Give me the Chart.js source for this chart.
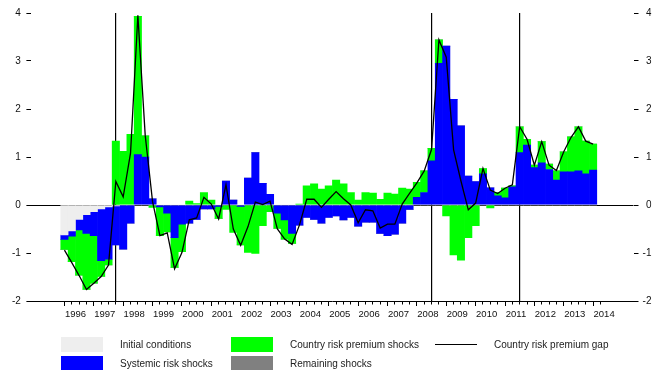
<!DOCTYPE html>
<html>
<head>
<meta charset="utf-8">
<script src="https://cdn.jsdelivr.net/npm/chart.js@4/dist/chart.umd.min.js"></script>
<style>
html,body{margin:0;padding:0;background:#fff;}
#wrap{position:relative;width:668px;height:370px;overflow:hidden;font-family:'Liberation Sans',Arial,sans-serif;}
#c{position:absolute;left:0;top:0;}
.lgt{position:absolute;font-size:10px;color:#222;white-space:nowrap;height:15px;line-height:15px;}
.lgb{position:absolute;width:42px;height:15px;}
.lgl{position:absolute;width:42px;height:0;border-top:1px solid #111;}
</style>
</head>
<body>
<div id="wrap">
<canvas id="c" width="668" height="370"></canvas>
<div id="legend"></div>
</div>
<script>
// ---- categories (quarters 1996Q1 .. 2014Q1) ----
const firstYear = 1996, lastYear = 2014, lastQuarter = 1;
const quarters = [];
for (let y = firstYear; y <= lastYear; y++) {
  for (let q = 1; q <= 4; q++) {
    if (y === lastYear && q > lastQuarter) break;
    quarters.push(y + 'Q' + q);
  }
}

// ---- series (contributions to the country risk premium gap) ----
const initialConditions = [
  -0.625,-0.54,-0.30,-0.20,-0.14,-0.08,-0.04,-0.02,0,0,
  0,0,0,0,0,0,0,0,0,0,
  0,0,0,0,0,0,0,0,0,0,
  0,0,0,0,0,0,0,0,0,0,
  0,0,0,0,0,0,0,0,0,0,
  0,0,0,0,0,0,0,0,0,0,
  0,0,0,0,0,0,0,0,0,0,
  0,0,0
];
const systemicRiskShocks = [
  -0.09,-0.11,-0.22,-0.39,-0.50,-1.08,-1.09,-0.81,-0.92,-0.38,
  1.05,1.00,0.13,-0.04,-0.17,-0.68,-0.40,-0.38,-0.30,-0.08,
  -0.08,-0.03,0.50,0.10,-0.03,0.56,1.09,0.45,0.22,-0.17,
  -0.31,-0.59,-0.42,-0.26,-0.30,-0.38,-0.26,-0.23,-0.31,-0.26,
  -0.44,-0.36,-0.36,-0.59,-0.64,-0.61,-0.38,-0.09,0.16,0.26,
  0.92,2.95,3.31,2.20,1.65,0.60,0.49,0.65,0.36,0.19,
  0.15,0.38,1.09,1.25,0.78,0.88,0.74,0.52,0.69,0.69,
  0.71,0.65,0.73
];
const countryRiskPremiumShocks = [
  -0.21,-0.53,-0.94,-1.17,-0.99,-0.33,-0.12,1.33,1.12,1.47,
  2.88,0.44,-0.05,-0.60,-0.39,-0.62,-0.57,0.08,0.03,0.26,
  0.10,-0.25,-0.09,-0.57,-0.80,-0.99,-1.01,-0.43,-0.14,-0.32,
  -0.40,-0.21,0.02,0.40,0.44,0.33,0.40,0.52,0.44,0.26,
  0.10,0.26,0.25,0.12,0.25,0.23,0.35,0.33,0.31,0.45,
  0.26,0.49,-0.23,-1.04,-1.15,-0.68,-0.43,0.11,-0.06,0.07,
  0.20,0.02,0.54,0.12,0.05,0.44,0.11,0.19,0.42,0.73,
  0.92,0.68,0.54
];
const remainingShocks = [
  0,0,0,0,0,0,0,0,0,0,
  0,0,0,0,0,0,0,0,0,0,
  0,0,0,0,0,0,0,0,0,0,
  0,0,0,0,0,0,0,0,0,0,
  0,0,0,0,0,0,0,0,0,0,
  0,0,0,0,0,0,0,0,0,0,
  0,0,0,0,0,0,0,0,0,0,
  0,0,0
];
const countryRiskPremiumGap = [
  -0.94,-1.20,-1.47,-1.76,-1.63,-1.49,-1.25,0.49,0.17,1.08,
  3.95,1.45,0.07,-0.64,-0.58,-1.33,-0.99,-0.31,-0.27,0.16,
  0.02,-0.29,0.42,-0.50,-0.84,-0.45,0.06,0.01,0.08,-0.50,
  -0.71,-0.82,-0.42,0.12,0.12,-0.05,0.12,0.28,0.13,0.00,
  -0.37,-0.10,-0.12,-0.48,-0.40,-0.40,0.02,0.24,0.46,0.71,
  1.16,3.44,3.08,1.15,0.50,-0.10,0.04,0.76,0.31,0.24,
  0.35,0.42,1.63,1.37,0.83,1.32,0.83,0.72,1.11,1.41,
  1.63,1.33,1.27
];

// ---- axis / tick definitions ----
const axisFirstQuarter = '1995Q1', axisLastQuarter = '2015Q2';
const yearTicks = [1996,1997,1998,1999,2000,2001,2002,2003,2004,2005,2006,2007,2008,2009,2010,2011,2012,2013,2014];
const quarterTickRange = ['1996Q1','2014Q2'];
const eventQuarters = ['1997Q4','2008Q3','2011Q3'];
const yTicks = [-2,-1,0,1,2,3,4];

const toX = s => Number(s.slice(0,4)) + (Number(s.slice(5)) - 1) / 4;
const xs = quarters.map(toX);
const pts = arr => arr.map((v, i) => ({x: xs[i], y: v}));
const xMin = toX(axisFirstQuarter) - 0.125, xMax = toX(axisLastQuarter) + 0.125;
const qTicks = [];
for (let v = toX(quarterTickRange[0]); v <= toX(quarterTickRange[1]) + 1e-9; v += 0.25) qTicks.push({value: v});

const FONT = "'Liberation Sans', Arial, sans-serif";
const labels = {
  init: 'Initial conditions', sys: 'Systemic risk shocks', crp: 'Country risk premium shocks',
  rem: 'Remaining shocks', gap: 'Country risk premium gap'
};
const colors = {init:'#eeeeee', sys:'#0000ff', crp:'#00ff00', rem:'#808080', gap:'#000000'};

const chart = new Chart(document.getElementById('c'), {
  type: 'bar',
  data: {
    datasets: [
      {type:'line', label: labels.gap, data: pts(countryRiskPremiumGap), borderColor: colors.gap, borderWidth: 1.3,
       pointRadius: 0, tension: 0, fill: false, stack: 'gap', order: 0},
      {label: labels.init, data: pts(initialConditions), backgroundColor: colors.init, stack: 's', order: 1},
      {label: labels.sys, data: pts(systemicRiskShocks), backgroundColor: colors.sys, stack: 's', order: 1},
      {label: labels.crp, data: pts(countryRiskPremiumShocks), backgroundColor: colors.crp, stack: 's', order: 1},
      {label: labels.rem, data: pts(remainingShocks), backgroundColor: colors.rem, stack: 's', order: 1}
    ]
  },
  options: {
    responsive: false,
    animation: false,
    devicePixelRatio: 1,
    categoryPercentage: 1,
    barPercentage: 1,
    borderWidth: 0,
    layout: {padding: {left: 11.4, right: 16.5, top: 13, bottom: 49}},
    plugins: {legend: {display: false}, tooltip: {enabled: false}},
    scales: {
      x: {
        type: 'linear', axis: 'x', position: 'bottom', min: xMin, max: xMax, stacked: true, offset: false,
        afterBuildTicks: s => { s.ticks = yearTicks.map(v => ({value: v})); },
        afterFit: s => { s.height = 20; },
        grid: {offset: false, drawOnChartArea: false, tickLength: 5, tickColor: '#000', tickWidth: 1},
        border: {display: true, color: '#000', width: 1},
        ticks: {autoSkip: false, maxRotation: 0, labelOffset: 11, padding: 3, color: '#111',
                font: {family: FONT, size: 9.5}, callback: v => String(v)}
      },
      xq: {
        type: 'linear', axis: 'x', position: {y: -2}, min: xMin, max: xMax, offset: false,
        afterBuildTicks: s => { s.ticks = qTicks.slice(); },
        grid: {offset: false, drawOnChartArea: false, tickLength: 3.5, tickColor: '#000', tickWidth: 1},
        border: {display: false},
        ticks: {display: false, autoSkip: false}
      },
      ev: {
        type: 'linear', axis: 'x', position: {y: -2}, min: xMin, max: xMax, z: 1, offset: false,
        afterBuildTicks: s => { s.ticks = eventQuarters.map(q => ({value: toX(q)})); },
        grid: {offset: false, drawOnChartArea: true, drawTicks: false, color: '#000', lineWidth: 1.2},
        border: {display: false},
        ticks: {display: false, autoSkip: false}
      },
      y: {
        type: 'linear', axis: 'y', position: 'left', min: -2, max: 4, stacked: true,
        afterBuildTicks: s => { s.ticks = yTicks.map(v => ({value: v})); },
        afterFit: s => { s.width = 20; },
        grid: {drawOnChartArea: true, color: c => (c.tick && c.tick.value === 0) ? '#000' : 'rgba(0,0,0,0)',
               lineWidth: 1, tickLength: 5, tickColor: '#000', tickWidth: 1},
        border: {display: false},
        ticks: {padding: 5.5, color: '#111', font: {family: FONT, size: 10}}
      },
      y2: {
        type: 'linear', axis: 'y', position: 'right', min: -2, max: 4,
        afterBuildTicks: s => { s.ticks = yTicks.map(v => ({value: v})); },
        afterFit: s => { s.width = 18; },
        grid: {drawOnChartArea: false, tickLength: 5, tickColor: '#000', tickWidth: 1},
        border: {display: false},
        ticks: {padding: 5, crossAlign: 'far', color: '#111', font: {family: FONT, size: 10}}
      }
    }
  }
});

// ---- legend (HTML, 3 columns x 2 rows) ----
const legendItems = [
  {text: labels.init, color: colors.init, kind: 'box'},
  {text: labels.crp, color: colors.crp, kind: 'box'},
  {text: labels.gap, color: colors.gap, kind: 'line'},
  {text: labels.sys, color: colors.sys, kind: 'box'},
  {text: labels.rem, color: colors.rem, kind: 'box'}
];
const colX = [61, 231, 435], rowY = [336.7, 356];
const lg = document.getElementById('legend');
legendItems.forEach((it, i) => {
  const cx = colX[i % 3], cy = rowY[Math.floor(i / 3)];
  const sym = document.createElement('div');
  if (it.kind === 'box') {
    sym.className = 'lgb';
    sym.style.left = cx + 'px'; sym.style.top = cy + 'px'; sym.style.background = it.color;
  } else {
    sym.className = 'lgl';
    sym.style.left = cx + 'px'; sym.style.top = (cy + 7) + 'px'; sym.style.borderTopColor = it.color;
  }
  lg.appendChild(sym);
  const t = document.createElement('div');
  t.className = 'lgt';
  t.style.left = (cx + 59) + 'px'; t.style.top = cy + 'px';
  t.textContent = it.text;
  lg.appendChild(t);
});
</script>
</body>
</html>
